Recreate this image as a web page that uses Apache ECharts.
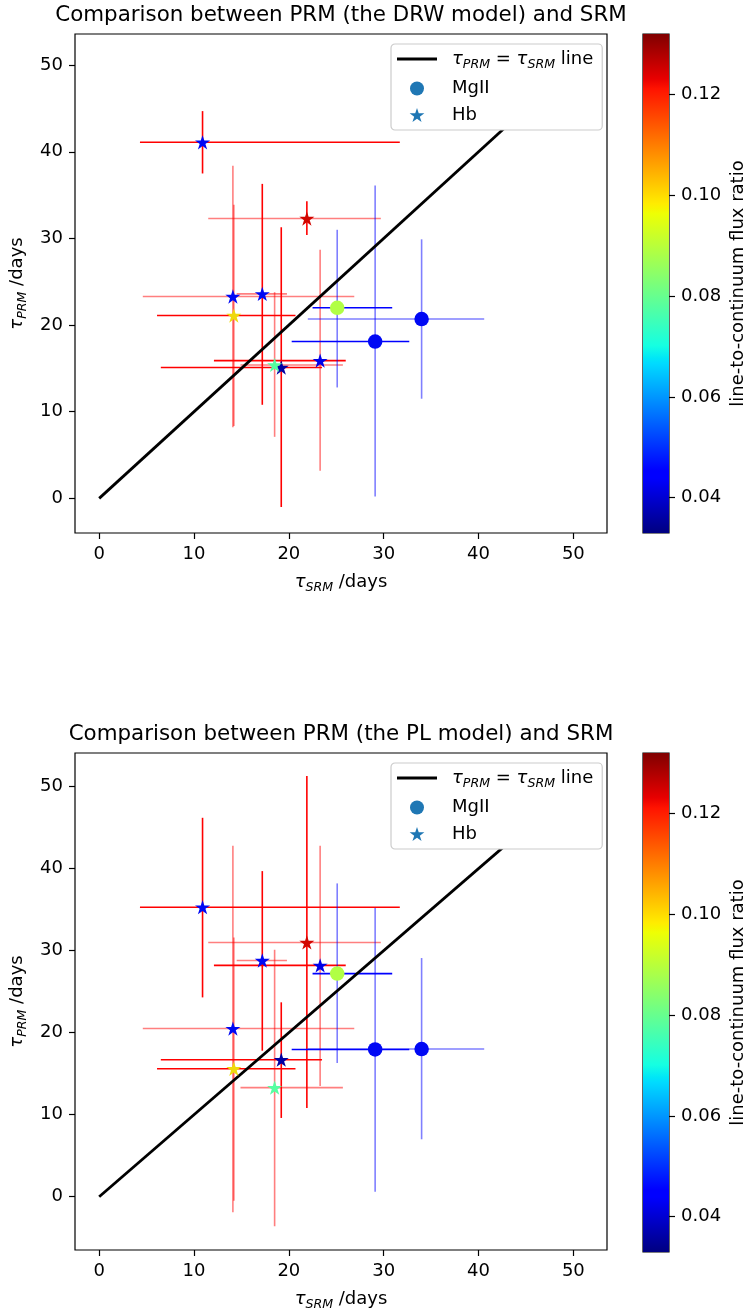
<!DOCTYPE html>
<html>
<head>
<meta charset="utf-8">
<title>PRM vs SRM</title>
<script src="https://cdn.jsdelivr.net/npm/echarts@6/dist/echarts.min.js"></script>
<style>
  html, body { margin: 0; padding: 0; background: #fff; }
  #chart { width: 749px; height: 1312px; }
</style>
</head>
<body>
<div id="chart"></div>
<script>
// ---- data (lags in days) ----
// Hb objects (stars)
var srmHb   = [10.9, 21.9, 14.1, 14.2, 17.2, 19.2, 18.5, 23.3];
var srmHbLo = [4.3, 11.5, 4.6, 6.1, 14.5, 6.5, 14.9, 12.1];
var srmHbHi = [31.7, 29.7, 26.9, 20.7, 19.8, 23.5, 25.7, 26.0];
var fluxHb  = [0.044, 0.125, 0.044, 0.099, 0.044, 0.036, 0.078, 0.042];

var drwHb   = [41.1, 32.3, 23.3, 21.1, 23.6, 15.1, 15.4, 15.9];
var drwHbLo = [37.5, 30.4, 8.2, 8.35, 10.8, -1.0, 7.1, 3.2];
var drwHbHi = [44.7, 34.3, 38.4, 33.9, 36.3, 31.3, 23.8, 28.7];

var plHb    = [35.3, 31.0, 20.5, 15.6, 28.8, 16.7, 13.3, 28.2];
var plHbLo  = [24.3, 10.8, -1.9, -0.5, 17.8, 9.6, -3.6, 13.5];
var plHbHi  = [46.2, 51.3, 42.8, 31.6, 39.7, 23.7, 30.1, 42.8];

// MgII objects (circles)
var srmMg   = [25.1, 29.1, 34.0];
var srmMgLo = [22.5, 20.3, 22.0];
var srmMgHi = [30.9, 32.7, 40.6];
var fluxMg  = [0.089, 0.044, 0.044];

var drwMg   = [22.0, 18.1, 20.7];
var drwMgLo = [12.8, 0.2, 11.5];
var drwMgHi = [31.0, 36.1, 29.9];

var plMg    = [27.2, 17.95, 18.0];
var plMgLo  = [16.3, 0.6, 7.0];
var plMgHi  = [38.2, 35.2, 29.1];

// one-to-one line and axes
var lineX = [0, 51];
var axisTicks = [0, 10, 20, 30, 40, 50];
var cbTicks = [0.04, 0.06, 0.08, 0.10, 0.12];
var cbRange = [0.033, 0.132];

// errorbar opacity (some bars were drawn lighter)
var hbAlphaX = [1, 0.5, 0.5, 1, 0.5, 1, 0.5, 1];
var hbAlphaY = [1, 1, 0.5, 0.5, 1, 1, 0.5, 0.5];
var mgAlphaX = [1, 1, 0.5];
var mgAlphaY = [0.5, 0.5, 0.5];

var FONT = 'DejaVu Sans';
var FS = 18;
var STAR = 'path://M0,-1 L0.2245,-0.309 L0.9511,-0.309 L0.3633,0.118 L0.5878,0.809 L0,0.382 L-0.5878,0.809 L-0.3633,0.118 L-0.9511,-0.309 L-0.2245,-0.309 Z';
var BAR = 'path://M0,0 L40,0 L40,3 L0,3 Z';
var jet = ['#000080', '#0000f3', '#004cff', '#00b3ff', '#29ffce', '#7bff7b',
           '#ceff29', '#ffc600', '#ff6800', '#f30900', '#800000'];
var jetStops = [
  [0, '#000080'], [0.11, '#0000ff'], [0.125, '#0000ff'], [0.34, '#00dbff'],
  [0.35, '#00e6f7'], [0.375, '#15ffe2'], [0.64, '#eeff04'], [0.65, '#f7f500'],
  [0.66, '#ffec00'], [0.89, '#ff1300'], [0.91, '#e80000'], [1, '#800000']
];

var richTau = {
  t: { fontFamily: FONT, fontSize: FS, fontStyle: 'italic', lineHeight: 24, color: '#000' },
  s: { fontFamily: FONT, fontSize: 12.6, fontStyle: 'italic', lineHeight: 14, verticalAlign: 'bottom', color: '#000' },
  n: { fontFamily: FONT, fontSize: FS, lineHeight: 24, color: '#000' },
  g: { width: 10 }
};

function zip3(a, b, c) {
  return a.map(function (v, i) { return [v, b[i], c[i]]; });
}
function errData(x, xlo, xhi, y, ylo, yhi) {
  return x.map(function (v, i) { return [v, y[i], xlo[i], xhi[i], ylo[i], yhi[i]]; });
}
function errorBar(color, ax, ay) {
  return function (params, api) {
    var x = api.value(0), y = api.value(1);
    var l = api.coord([api.value(2), y]), r = api.coord([api.value(3), y]);
    var b = api.coord([x, api.value(4)]), t = api.coord([x, api.value(5)]);
    var i = params.dataIndex;
    return {
      type: 'group',
      children: [
        { type: 'line', shape: { x1: l[0], y1: l[1], x2: r[0], y2: r[1] },
          style: { stroke: color, lineWidth: 1.6, opacity: ax[i] } },
        { type: 'line', shape: { x1: b[0], y1: b[1], x2: t[0], y2: t[1] },
          style: { stroke: color, lineWidth: 1.6, opacity: ay[i] } }
      ]
    };
  };
}

var tickStyle = { show: true, length: 6, inside: false, customValues: axisTicks, lineStyle: { color: '#000', width: 1.2 } };
var labelStyle = { customValues: axisTicks, margin: 12, fontFamily: FONT, fontSize: FS, color: '#000' };

var grids = [], xAxes = [], yAxes = [], series = [], titles = [], legends = [], scatterIdx = [];

function addPanel(k, title, prmHb, prmHbLo, prmHbHi, prmMg, prmMgLo, prmMgHi, yMin, yMax) {
  var top = 34 + k * 719;
  var g = grids.length;
  titles.push({
    text: title, left: 341, top: top - 29, textAlign: 'center', padding: 0,
    textStyle: { fontFamily: FONT, fontSize: 21.4, fontWeight: 'normal', color: '#000' }
  });
  grids.push({ left: 75, top: top, width: 532, height: 499, show: true,
               borderColor: '#000', borderWidth: 1.2, backgroundColor: 'transparent' });
  xAxes.push({
    gridIndex: g, type: 'value', min: -2.55, max: 53.55,
    name: '{t|τ}{s|SRM}{n| /days}', nameLocation: 'middle', nameGap: 37,
    nameTextStyle: { rich: richTau },
    axisLine: { show: false, onZero: false }, splitLine: { show: false },
    axisTick: tickStyle, axisLabel: labelStyle
  });
  yAxes.push({
    gridIndex: g, type: 'value', min: yMin, max: yMax,
    name: '{t|τ}{s|PRM}{n| /days}', nameLocation: 'middle', nameGap: 44,
    nameTextStyle: { rich: richTau },
    axisLine: { show: false, onZero: false }, splitLine: { show: false },
    axisTick: tickStyle, axisLabel: labelStyle
  });

  series.push({
    type: 'custom', xAxisIndex: g, yAxisIndex: g, z: 2, silent: true,
    renderItem: errorBar('#ff0000', hbAlphaX, hbAlphaY),
    data: errData(srmHb, srmHbLo, srmHbHi, prmHb, prmHbLo, prmHbHi)
  });
  series.push({
    type: 'custom', xAxisIndex: g, yAxisIndex: g, z: 2, silent: true,
    renderItem: errorBar('#0000ff', mgAlphaX, mgAlphaY),
    data: errData(srmMg, srmMgLo, srmMgHi, prmMg, prmMgLo, prmMgHi)
  });
  series.push({
    type: 'line', name: 'one', xAxisIndex: g, yAxisIndex: g, z: 3, silent: true,
    symbol: 'none', lineStyle: { color: '#000', width: 2.8 }, itemStyle: { color: '#000' },
    data: lineX.map(function (v) { return [v, v]; })
  });
  scatterIdx.push(series.length);
  series.push({
    type: 'scatter', name: 'MgII', xAxisIndex: g, yAxisIndex: g, z: 4,
    symbol: 'circle', symbolSize: 14.5, itemStyle: { color: '#1f77b4', opacity: 1 },
    data: zip3(srmMg, prmMg, fluxMg)
  });
  scatterIdx.push(series.length);
  series.push({
    type: 'scatter', name: 'Hb', xAxisIndex: g, yAxisIndex: g, z: 4,
    symbol: STAR, symbolKeepAspect: true, symbolSize: 15, itemStyle: { color: '#1f77b4', opacity: 1 },
    data: zip3(srmHb, prmHb, fluxHb)
  });

  // colorbar
  var c = grids.length;
  grids.push({ left: 643, top: top, width: 26, height: 499, show: true,
               borderColor: '#000', borderWidth: 1.2, backgroundColor: 'transparent' });
  xAxes.push({ gridIndex: c, type: 'value', min: 0, max: 1, show: false });
  yAxes.push({
    gridIndex: c, type: 'value', position: 'right', min: cbRange[0], max: cbRange[1],
    name: 'line-to-continuum flux ratio', nameLocation: 'middle', nameRotate: 90, nameGap: 60,
    nameTextStyle: { fontFamily: FONT, fontSize: FS, color: '#000' },
    axisLine: { show: false, onZero: false }, splitLine: { show: false },
    axisTick: { show: true, length: 6, customValues: cbTicks, lineStyle: { color: '#000', width: 1.2 } },
    axisLabel: { customValues: cbTicks, margin: 12, fontFamily: FONT, fontSize: FS, color: '#000',
                 formatter: function (v) { return v.toFixed(2); } }
  });
  series.push({
    type: 'custom', xAxisIndex: c, yAxisIndex: c, z: 1, silent: true,
    data: [[0, cbRange[0], cbRange[1]]],
    renderItem: function (params, api) {
      var p0 = api.coord([0, api.value(2)]);
      var p1 = api.coord([1, api.value(1)]);
      return {
        type: 'rect',
        shape: { x: p0[0], y: p0[1], width: p1[0] - p0[0], height: p1[1] - p0[1] },
        style: { fill: new echarts.graphic.LinearGradient(0, 1, 0, 0,
          jetStops.map(function (s) { return { offset: s[0], color: s[1] }; })) }
      };
    }
  });

  legends.push({
    left: 391, top: top + 10, orient: 'vertical', selectedMode: false,
    padding: [6, 9, 6, 6], itemGap: 8.5, itemWidth: 40, itemHeight: 14,
    borderColor: '#cccccc', borderWidth: 1.2, borderRadius: 4,
    backgroundColor: '#ffffff',
    data: [
      { name: 'one', icon: BAR, itemStyle: { color: '#000' } },
      { name: 'MgII', icon: 'circle', itemStyle: { color: '#1f77b4' } },
      { name: 'Hb', icon: STAR, itemStyle: { color: '#1f77b4' } }
    ],
    formatter: function (name) {
      if (name === 'one') return '{g| }{t|τ}{s|PRM}{n| = }{t|τ}{s|SRM}{n| line}';
      return '{g| }{n|' + name + '}';
    },
    textStyle: { fontFamily: FONT, fontSize: FS, color: '#000', rich: richTau }
  });
}

addPanel(0, 'Comparison between PRM (the DRW model) and SRM',
         drwHb, drwHbLo, drwHbHi, drwMg, drwMgLo, drwMgHi, -4.0, 53.6);
addPanel(1, 'Comparison between PRM (the PL model) and SRM',
         plHb, plHbLo, plHbHi, plMg, plMgLo, plMgHi, -6.5, 54.1);

var chart = echarts.init(document.getElementById('chart'), null, { renderer: 'canvas' });
chart.setOption({
  animation: false,
  backgroundColor: '#fff',
  title: titles,
  legend: legends,
  grid: grids,
  xAxis: xAxes,
  yAxis: yAxes,
  visualMap: {
    type: 'continuous', show: false, dimension: 2,
    min: cbRange[0], max: cbRange[1], seriesIndex: scatterIdx,
    inRange: { color: jet }
  },
  series: series
});
</script>
</body>
</html>
